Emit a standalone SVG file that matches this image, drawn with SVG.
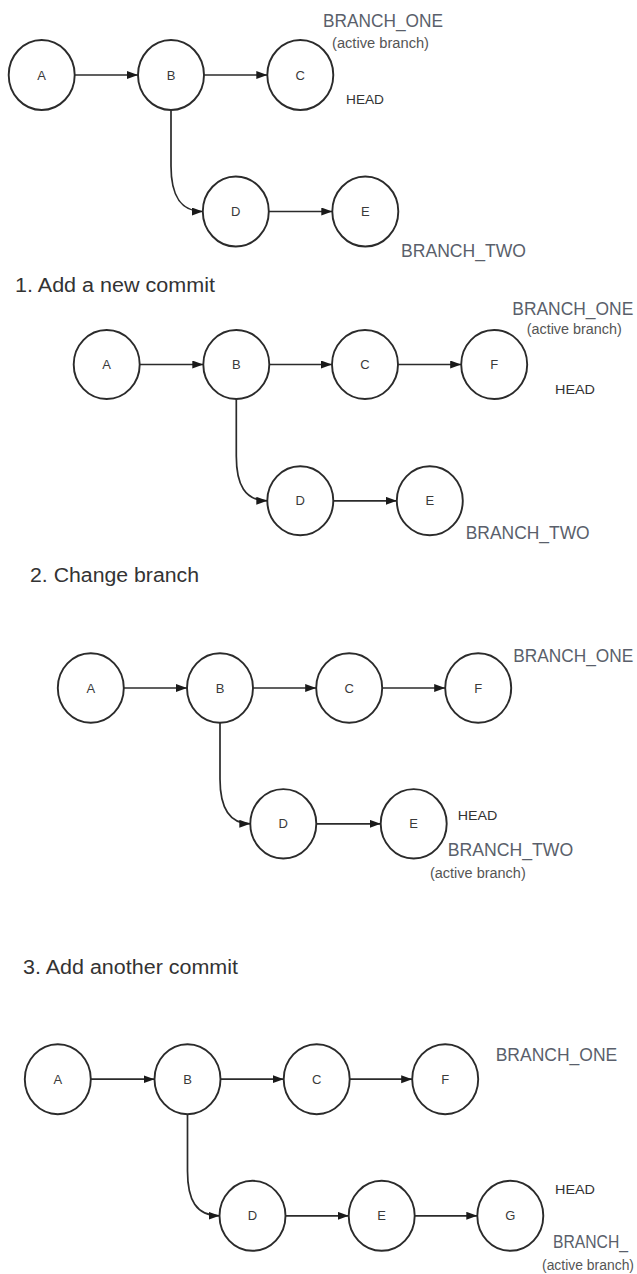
<svg xmlns="http://www.w3.org/2000/svg" width="637" height="1274" viewBox="0 0 637 1274">
<defs>
<style>
.n ellipse{fill:#fff;stroke:#2b2b2b;stroke-width:1.9}
.n text{font-family:"Liberation Sans",Arial,sans-serif;font-size:13px;fill:#3a3a3a;text-anchor:middle}
.e path{fill:none;stroke:#2b2b2b;stroke-width:1.7;marker-end:url(#ah)}
.t{font-family:"Liberation Sans",Arial,sans-serif;font-size:20px;fill:#333}
.br{font-family:"Liberation Sans",Arial,sans-serif;font-size:18px;fill:#5a5f6b}
.ab{font-family:"Liberation Sans",Arial,sans-serif;font-size:14px;fill:#555}
.hd{font-family:"Liberation Sans",Arial,sans-serif;font-size:13.5px;fill:#333}
</style>
<marker id="ah" markerUnits="userSpaceOnUse" markerWidth="12" markerHeight="9" refX="11" refY="4" orient="auto">
<path d="M0,0 L11,4 L0,8 z" fill="#1a1a1a"/>
</marker>
</defs>
<rect width="637" height="1274" fill="#fff"/>

<!-- Section 0 -->
<g id="s0-A" class="n"><ellipse cx="41.7" cy="75" rx="33" ry="35"/><text x="41.7" y="79.5">A</text></g>
<g id="s0-B" class="n"><ellipse cx="171" cy="75" rx="33" ry="35"/><text x="171" y="79.5">B</text></g>
<g id="s0-C" class="n"><ellipse cx="300.3" cy="75" rx="33" ry="35"/><text x="300.3" y="79.5">C</text></g>
<g id="s0-D" class="n"><ellipse cx="235.8" cy="211.5" rx="33" ry="35"/><text x="235.8" y="216">D</text></g>
<g id="s0-E" class="n"><ellipse cx="365.3" cy="211.5" rx="33" ry="35"/><text x="365.3" y="216">E</text></g>
<g id="s0-labels">
<text class="br" x="323" y="26.5" textLength="120" lengthAdjust="spacingAndGlyphs">BRANCH_ONE</text>
<text class="ab" x="332" y="47.5" textLength="97" lengthAdjust="spacingAndGlyphs">(active branch)</text>
<text class="hd" x="346" y="104" textLength="38" lengthAdjust="spacingAndGlyphs">HEAD</text>
<text class="br" x="401" y="257" textLength="125" lengthAdjust="spacingAndGlyphs">BRANCH_TWO</text>
</g>

<!-- Section 1 -->
<text id="title-1" class="t" x="15" y="291.7" textLength="200" lengthAdjust="spacingAndGlyphs">1. Add a new commit</text>
<g id="s1-A" class="n"><ellipse cx="106.7" cy="364.5" rx="33" ry="34.5"/><text x="106.7" y="369">A</text></g>
<g id="s1-B" class="n"><ellipse cx="236.3" cy="364.5" rx="33" ry="34.5"/><text x="236.3" y="369">B</text></g>
<g id="s1-C" class="n"><ellipse cx="365" cy="364.5" rx="33" ry="34.5"/><text x="365" y="369">C</text></g>
<g id="s1-F" class="n"><ellipse cx="494.2" cy="364.5" rx="33" ry="34.5"/><text x="494.2" y="369">F</text></g>
<g id="s1-D" class="n"><ellipse cx="300.3" cy="500.8" rx="33" ry="34.5"/><text x="300.3" y="505.3">D</text></g>
<g id="s1-E" class="n"><ellipse cx="429.8" cy="500.8" rx="33" ry="34.5"/><text x="429.8" y="505.3">E</text></g>
<g id="s1-labels">
<text class="br" x="512.3" y="315" textLength="121" lengthAdjust="spacingAndGlyphs">BRANCH_ONE</text>
<text class="ab" x="526.7" y="334" textLength="95" lengthAdjust="spacingAndGlyphs">(active branch)</text>
<text class="hd" x="555" y="394" textLength="40" lengthAdjust="spacingAndGlyphs">HEAD</text>
<text class="br" x="465.7" y="538.5" textLength="124" lengthAdjust="spacingAndGlyphs">BRANCH_TWO</text>
</g>

<!-- Section 2 -->
<text id="title-2" class="t" x="30" y="581.7" textLength="169" lengthAdjust="spacingAndGlyphs">2. Change branch</text>
<g id="s2-A" class="n"><ellipse cx="90.8" cy="688" rx="33" ry="34.7"/><text x="90.8" y="692.5">A</text></g>
<g id="s2-B" class="n"><ellipse cx="220" cy="688" rx="33" ry="34.7"/><text x="220" y="692.5">B</text></g>
<g id="s2-C" class="n"><ellipse cx="349.2" cy="688" rx="33" ry="34.7"/><text x="349.2" y="692.5">C</text></g>
<g id="s2-F" class="n"><ellipse cx="478.2" cy="688" rx="33" ry="34.7"/><text x="478.2" y="692.5">F</text></g>
<g id="s2-D" class="n"><ellipse cx="283.3" cy="823.8" rx="33" ry="34.7"/><text x="283.3" y="828.3">D</text></g>
<g id="s2-E" class="n"><ellipse cx="413.7" cy="823.8" rx="33" ry="34.7"/><text x="413.7" y="828.3">E</text></g>
<g id="s2-labels">
<text class="br" x="513.3" y="661.5" textLength="120" lengthAdjust="spacingAndGlyphs">BRANCH_ONE</text>
<text class="hd" x="457.7" y="820" textLength="39.6" lengthAdjust="spacingAndGlyphs">HEAD</text>
<text class="br" x="447.7" y="855.8" textLength="125.6" lengthAdjust="spacingAndGlyphs">BRANCH_TWO</text>
<text class="ab" x="430" y="878.3" textLength="95.7" lengthAdjust="spacingAndGlyphs">(active branch)</text>
</g>

<!-- Section 3 -->
<text id="title-3" class="t" x="23" y="974" textLength="215" lengthAdjust="spacingAndGlyphs">3. Add another commit</text>
<g id="s3-A" class="n"><ellipse cx="57.8" cy="1079.2" rx="33" ry="35"/><text x="57.8" y="1083.7">A</text></g>
<g id="s3-B" class="n"><ellipse cx="187.5" cy="1079.2" rx="33" ry="35"/><text x="187.5" y="1083.7">B</text></g>
<g id="s3-C" class="n"><ellipse cx="316.7" cy="1079.2" rx="33" ry="35"/><text x="316.7" y="1083.7">C</text></g>
<g id="s3-F" class="n"><ellipse cx="445.2" cy="1079.2" rx="33" ry="35"/><text x="445.2" y="1083.7">F</text></g>
<g id="s3-D" class="n"><ellipse cx="252.5" cy="1215.8" rx="33" ry="35"/><text x="252.5" y="1220.3">D</text></g>
<g id="s3-E" class="n"><ellipse cx="381.7" cy="1215.8" rx="33" ry="35"/><text x="381.7" y="1220.3">E</text></g>
<g id="s3-G" class="n"><ellipse cx="510.3" cy="1215.8" rx="33" ry="35"/><text x="510.3" y="1220.3">G</text></g>
<g id="s3-labels">
<text class="br" x="553" y="1248" textLength="75" lengthAdjust="spacingAndGlyphs">BRANCH_</text>
<text class="br" x="495.7" y="1060.7" textLength="121.6" lengthAdjust="spacingAndGlyphs">BRANCH_ONE</text>
<text class="hd" x="555" y="1194" textLength="40" lengthAdjust="spacingAndGlyphs">HEAD</text>
<text class="ab" x="542" y="1269.5" textLength="92" lengthAdjust="spacingAndGlyphs">(active branch)</text>
</g>

<g id="connectors" class="e">
<!-- section 0 -->
<path d="M74.7,75 L138,75"/>
<path d="M204,75 L267.3,75"/>
<path d="M171,110 L171,166 C171,195 180,211.5 202.8,211.5"/>
<path d="M268.8,211.5 L332.3,211.5"/>
<!-- section 1 -->
<path d="M139.7,364.5 L203.3,364.5"/>
<path d="M269.3,364.5 L332,364.5"/>
<path d="M398,364.5 L461.2,364.5"/>
<path d="M236.3,399 L236.3,456 C236.3,485 245,500.8 267.3,500.8"/>
<path d="M333.3,500.8 L396.8,500.8"/>
<!-- section 2 -->
<path d="M123.8,688 L187,688"/>
<path d="M253,688 L316.2,688"/>
<path d="M382.2,688 L445.2,688"/>
<path d="M220,722.7 L220,779 C220,808 229,823.8 250.3,823.8"/>
<path d="M316.3,823.8 L380.7,823.8"/>
<!-- section 3 -->
<path d="M90.8,1079.2 L154.5,1079.2"/>
<path d="M220.5,1079.2 L283.7,1079.2"/>
<path d="M349.7,1079.2 L412.2,1079.2"/>
<path d="M187.5,1114.2 L187.5,1171 C187.5,1200 196,1215.8 219.5,1215.8"/>
<path d="M285.5,1215.8 L348.7,1215.8"/>
<path d="M414.7,1215.8 L477.3,1215.8"/>
</g>
</svg>
